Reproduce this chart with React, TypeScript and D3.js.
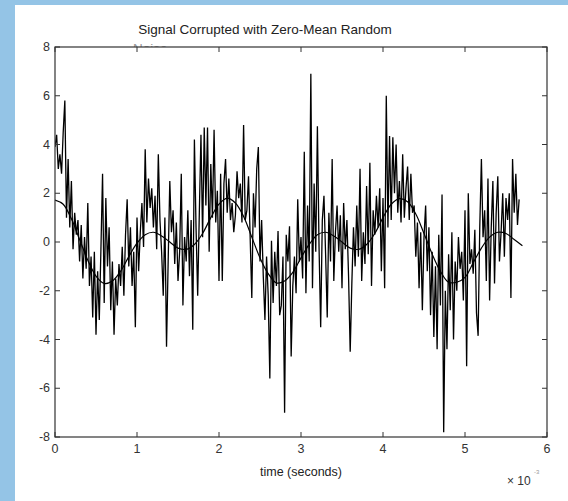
import React from "react";
import * as d3 from "d3";

// time axis, in units of 1e-3 s
const noiseStart = 0;
const noiseStep = 0.02;
const noisy = [
  3.9, 4.4, 3.0, 3.6, 2.8, 4.5, 5.8, 1.0, 3.4, 0.6,
  2.5, -0.3, 1.2, 0.3, 0.9, -0.8, 0.7, -1.5, 0.2, -1.1,
  1.6, -1.8, -0.6, -3.1, -0.4, -3.8, -1.2, -3.2, -0.3, 2.8,
  -2.5, 1.8, -1.0, 0.6, -2.8, -0.8, -3.8, -1.5, -2.6, -0.9,
  -1.8, -0.2, -2.2, 0.3, 1.75, -1.0, 0.6, -1.8, -0.4, -3.5,
  1.0, -1.2, 0.4, 1.6, -0.2, 3.8, 0.8, 2.6, 1.4, 2.2,
  0.6, 1.9, -0.3, 3.6, 0.9, -0.4, -2.2, 1.0, -4.3, -0.8,
  2.5, 0.4, 1.3, -0.9, 0.8, -1.6, -0.4, 2.8, -2.6, 0.2,
  -0.8, 1.3, -1.4, 0.9, -3.6, 4.2, 0.6, -2.2, 1.2, 4.4,
  0.2, 4.7, 1.5, 4.7, -0.4, 3.2, 1.0, 4.6, 0.8, 2.1,
  -1.6, 2.8, -1.6, 2.4, 3.4, 1.2, 2.6, 0.9, 1.6, 0.4,
  1.1, 2.9, 1.8, 2.4, 0.8, 4.8, 0.9, 1.3, 2.7, 0.2,
  -2.3, 2.0, 0.6, 3.0, 3.9, -0.8, 0.9, -1.4, -3.2, -0.6,
  -2.2, -5.6, 0.05, -2.5, -0.4, -1.8, 0.45, -3.0, -2.6, -0.6,
  -7.0, 0.3, -0.8, 0.65, -4.7, -1.8, -0.6, -2.1, 1.75, -0.8,
  0.2, -1.5, 3.7, -2.1, 1.5, -0.8, 6.9, -1.9, 2.4, -0.4,
  4.75, -0.2, -3.5, 0.9, 1.9, -0.5, -3.1, 1.2, -0.8, 3.4,
  -1.6, 0.4, 1.5, -0.4, 1.1, -1.9, 1.6, -0.3, 0.9, -1.4,
  -4.5, -1.7, 0.6, -1.0, 1.5, -0.6, 3.0, -1.6, 0.4, -0.9,
  2.3, -0.5, 3.25, -1.8, 1.3, 0.3, 1.9, 0.6, 2.2, -1.2,
  1.8, -1.9, 6.0, 0.6, 4.35, 0.9, 4.3, 2.0, 4.0, 1.2,
  2.5, 0.8, 3.6, 1.0, 2.2, 3.1, 0.9, 2.8, 1.2, 1.5,
  -0.6, 0.8, -1.9, 0.4, -2.8, 0.2, 1.5, -1.2, 0.6, -3.0,
  -0.4, -3.9, -1.0, -4.4, 0.3, -2.6, 1.95, -7.8, -2.0, -4.4,
  -0.5, -2.8, 0.4, -4.0, -0.8, -2.0, 0.2, -1.1, -0.4, -2.4,
  1.3, -5.1, 2.0, -0.9, -0.3, -1.3, 0.5, -2.9, -3.85, 0.6,
  3.4, 0.2, 1.3, -1.6, 2.6, -2.4, 0.6, 2.5, -1.7, 1.2,
  2.7, -0.8, 0.4, 2.0, -0.6, 1.8, 0.9, 2.0, -2.3, 3.4,
  1.2, 2.8, 0.7, 1.75,
];

const cleanStep = 0.1;
const clean = [
  1.72, 1.55, 0.95, 0.1, -0.75, -1.4, -1.7, -1.6, -1.2, -0.6,
  -0.05, 0.3, 0.4, 0.25, 0.0, -0.25, -0.3, -0.1, 0.35, 1.0,
  1.55, 1.8, 1.6, 1.05, 0.2, -0.65, -1.3, -1.68, -1.6, -1.25,
  -0.65, -0.1, 0.3, 0.4, 0.25, 0.0, -0.25, -0.3, -0.1, 0.35,
  1.0, 1.55, 1.78, 1.65, 1.15, 0.35, -0.5, -1.2, -1.65, -1.65,
  -1.45, -0.85, -0.25, 0.2, 0.4, 0.35, 0.1, -0.15,
];

const xTicks = [0, 1, 2, 3, 4, 5, 6];
const yTicks = [-8, -6, -4, -2, 0, 2, 4, 6, 8];

const width = 568;
const height = 501;
const left = 55;
const right = 547;
const top = 47;
const bottom = 437;
const font = "'Liberation Sans', Arial, Helvetica, sans-serif";
const tickCol = "#333";

const App = () => {
  const x = d3.scaleLinear().domain([0, 6]).range([left, right]);
  const y = d3.scaleLinear().domain([-8, 8]).range([bottom, top]);

  const noisyLine = d3
    .line<number>()
    .x((d, i) => x(noiseStart + i * noiseStep))
    .y((d) => y(d));

  const cleanLine = d3
    .line<number>()
    .x((d, i) => x(i * cleanStep))
    .y((d) => y(d))
    .curve(d3.curveCatmullRom);

  const tl = 5;

  return (
    <svg
      width={width}
      height={height}
      style={{ position: "absolute", left: 0, top: 0, display: "block" }}
      fontFamily={font}
    >
      <rect width={width} height={height} fill="#ffffff" />
      <rect width={15} height={height} fill="#94c4e6" />
      <rect width={width} height={5} fill="#94c4e6" />

      <text x={265} y={34} fontSize={13.5} textAnchor="middle" fill="#222">
        Signal Corrupted with Zero-Mean Random
      </text>
      <text x={133} y={53} fontSize={13.5} fill="#999">
        Noise
      </text>

      <rect
        x={left}
        y={top}
        width={right - left}
        height={bottom - top}
        fill="#ffffff"
      />

      <clipPath id="plot">
        <rect x={left} y={top} width={right - left} height={bottom - top} />
      </clipPath>
      <g clipPath="url(#plot)" fill="none">
        <path d={noisyLine(noisy) ?? ""} stroke="#000" strokeWidth={1.3} />
        <path d={cleanLine(clean) ?? ""} stroke="#000" strokeWidth={1.2} />
      </g>

      <rect
        x={left}
        y={top}
        width={right - left}
        height={bottom - top}
        fill="none"
        stroke={tickCol}
        strokeWidth={1.2}
      />

      {xTicks.map((t) => (
        <g key={"x" + t}>
          <line x1={x(t)} x2={x(t)} y1={bottom} y2={bottom - tl} stroke={tickCol} />
          <line x1={x(t)} x2={x(t)} y1={top} y2={top + tl} stroke={tickCol} />
          <text
            x={x(t)}
            y={bottom + 16}
            fontSize={12.5}
            textAnchor="middle"
            fill="#333"
          >
            {t}
          </text>
        </g>
      ))}
      {yTicks.map((t) => (
        <g key={"y" + t}>
          <line x1={left} x2={left + tl} y1={y(t)} y2={y(t)} stroke={tickCol} />
          <line x1={right} x2={right - tl} y1={y(t)} y2={y(t)} stroke={tickCol} />
          <text
            x={left - 5}
            y={y(t) + 4}
            fontSize={12.5}
            textAnchor="end"
            fill="#333"
          >
            {t}
          </text>
        </g>
      ))}

      <text x={301} y={476} fontSize={12.5} textAnchor="middle" fill="#222">
        time (seconds)
      </text>
      <text x={507} y={485} fontSize={12} fill="#333">
        × 10
      </text>
      <text x={534} y={474} fontSize={6} fill="#999">
        -3
      </text>
    </svg>
  );
};

export default App;
